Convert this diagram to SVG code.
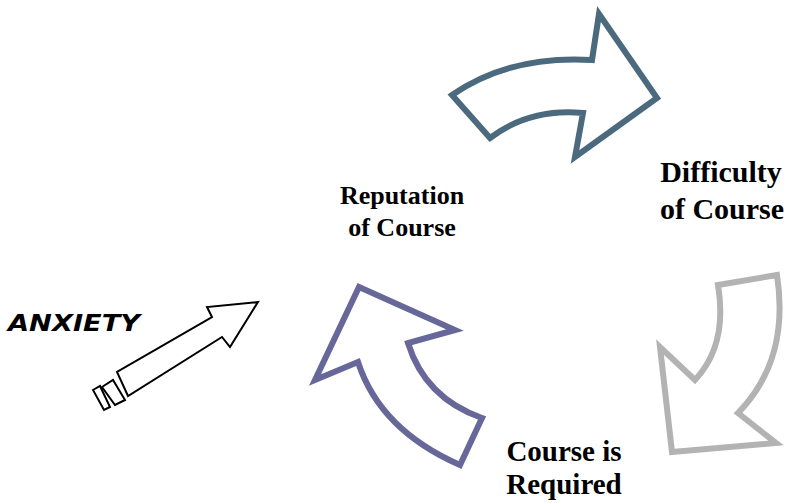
<svg xmlns="http://www.w3.org/2000/svg" width="789" height="503" viewBox="0 0 789 503">
<style>
.lbl{font-family:"Liberation Serif","Times New Roman",serif;font-weight:bold;fill:#000;text-anchor:middle}
.s1{font-size:26px}
.s2{font-size:30px}
.s3{font-size:29px}
.big{fill:#fff;stroke-width:6;stroke-linejoin:miter;stroke-miterlimit:10}
.thin{fill:#fff;stroke:#000;stroke-width:2;stroke-linejoin:miter}
.anx{font-family:"DejaVu Sans",sans-serif;font-weight:bold;font-style:italic;font-size:23px;fill:#000}
</style>
<rect width="789" height="503" fill="#fff"/>
<g id="connectors">
  <path id="arrow-top" class="big" stroke="#4c6a7e" d="M452,95 Q510,55 592,60 L599,14 L657,98 L575,157 L583,113 Q530,108 490,138 Z"/>
  <path id="arrow-right" class="big" stroke="#b3b3b3" d="M777,275 L718,285 Q728,345 695,380 L660,347 L672,452 L776,443 L738,413 Q790,360 777,275 Z"/>
  <path id="arrow-left" class="big" stroke="#676799" d="M359,287 L455,330 L408,343 Q425,398 482,418 L460,465 Q380,430 358,362 L315,380 Z"/>
  <g id="anxiety-arrow">
    <path class="thin" d="M258,302 L207,307 L212,317 L117,372 L128,396 L222,337 L230,347 Z"/>
    <path class="thin" d="M102,387 L113,380 L125,400 L115,405 Z"/>
    <path class="thin" d="M93,390 L100,386 L110,407 L104,410 Z"/>
  </g>
</g>
<g id="node-reputation">
  <text class="lbl s1" x="402" y="204">Reputation</text>
  <text class="lbl s1" x="402" y="236">of Course</text>
</g>
<g id="node-difficulty">
  <text class="lbl s2" x="721" y="182">Difficulty</text>
  <text class="lbl s2" x="722" y="219">of Course</text>
</g>
<g id="node-required">
  <text class="lbl s3" x="564" y="461">Course is</text>
  <text class="lbl s3" x="564" y="494">Required</text>
</g>
<g id="node-anxiety">
  <text class="anx" x="8" y="331" textLength="132" lengthAdjust="spacingAndGlyphs">ANXIETY</text>
</g>
</svg>
